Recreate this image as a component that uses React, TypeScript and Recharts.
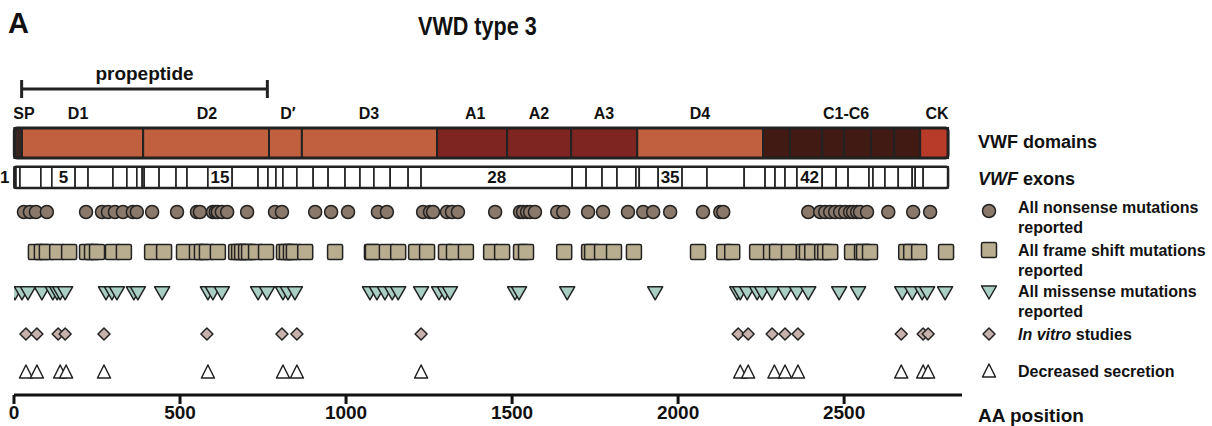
import React from 'react';
import { ComposedChart, XAxis, YAxis, Scatter, ReferenceArea, ReferenceLine } from 'recharts';

const FONT = '"Liberation Sans", Arial, Helvetica, sans-serif';

// VWF domain blocks, AA positions
const domainNames = ['SP', 'D1', 'D2', 'D′', 'D3', 'A1', 'A2', 'A3', 'D4', 'C1', 'C2', 'C3', 'C4', 'C5', 'C6', 'CK'];
const domainStarts = [1, 24, 389, 768, 867, 1274, 1485, 1678, 1877, 2256, 2337, 2434, 2500, 2581, 2651, 2729];
const domainEnds = [24, 389, 768, 867, 1274, 1485, 1678, 1877, 2256, 2337, 2434, 2500, 2581, 2651, 2729, 2813];

// labels written above the domain bar (text, AA position of its centre)
const domainLabels = ['SP', 'D1', 'D2', 'D′', 'D3', 'A1', 'A2', 'A3', 'D4', 'C1-C6', 'CK'];
const domainLabelAt = [30, 193, 581, 825, 1069, 1389, 1581, 1777, 2066, 2506, 2780];

const propeptide = [23, 763];

// exon boundaries along the protein
const exonEdges = [
  1, 6, 18, 81, 114, 184, 223, 298, 340, 370, 386, 392, 437, 488, 521, 584, 657, 735, 765, 789, 810, 852,
  901, 946, 997, 1042, 1084, 1133, 1187, 1226, 1681, 1723, 1771, 1816, 1873, 1883, 1940, 2012, 2087, 2199,
  2262, 2292, 2322, 2358, 2434, 2476, 2512, 2575, 2587, 2623, 2663, 2705, 2714, 2738, 2813,
];
const exonTags = ['5', '15', '28', '35', '42'];
const exonTagStart = [114, 584, 1226, 1940, 2358];

// mutation positions
const nonsense = [
  30, 48, 66, 99, 217, 265, 283, 304, 328, 358, 370, 416, 491, 551, 560, 599, 608, 614, 626, 642, 702, 786,
  807, 907, 955, 1006, 1096, 1123, 1232, 1253, 1262, 1304, 1319, 1337, 1449, 1524, 1533, 1545, 1554, 1569,
  1636, 1654, 1729, 1774, 1849, 1895, 1925, 1976, 2075, 2127, 2136, 2392, 2428, 2443, 2458, 2473, 2488,
  2503, 2518, 2527, 2539, 2548, 2569, 2633, 2708, 2759,
];
const frameshift = [
  66, 84, 99, 130, 166, 220, 235, 250, 298, 331, 416, 452, 512, 551, 566, 581, 614, 669, 678, 687, 699,
  708, 729, 759, 813, 822, 834, 843, 877, 967, 1078, 1081, 1123, 1157, 1211, 1244, 1301, 1325, 1361, 1437,
  1470, 1527, 1542, 1657, 1732, 1741, 1771, 1807, 1867, 2060, 2139, 2163, 2238, 2280, 2298, 2334, 2379,
  2388, 2404, 2434, 2443, 2458, 2524, 2554, 2560, 2578, 2687, 2702, 2726, 2807,
];
const missense = [
  3, 24, 42, 84, 117, 130, 139, 154, 277, 295, 310, 361, 373, 446, 584, 599, 626, 735, 762, 810, 825, 846,
  1072, 1093, 1117, 1139, 1157, 1226, 1280, 1298, 1313, 1509, 1521, 1666, 1931, 2178, 2187, 2208, 2238,
  2253, 2283, 2322, 2358, 2392, 2485, 2542, 2675, 2705, 2735, 2750, 2804,
];
const inVitro = [36, 69, 133, 154, 271, 581, 807, 852, 1226, 2181, 2211, 2283, 2322, 2361, 2672, 2738, 2753];
const secretion = [36, 69, 139, 157, 271, 584, 810, 852, 1226, 2187, 2211, 2290, 2322, 2361, 2672, 2738, 2753];

const axisTicks = [0, 500, 1000, 1500, 2000, 2500];

// row levels on the hidden y axis
const ROW = {
  secretion: 0,
  inVitro: 0.95,
  missense: 1.98,
  frameshift: 3,
  nonsense: 4,
  exonLow: 4.6,
  exonHigh: 5.13,
  domLow: 5.35,
  domHigh: 6.1,
  domLabel: 6.475,
  proLow: 6.85,
  proLine: 7.075,
  proHigh: 7.3,
  proLabel: 7.475,
};

const INK = '#222';

const domainColor = (name: string) => {
  if (name === 'SP') return '#3b2520';
  if (name === 'CK') return '#b83a29';
  if (name.startsWith('A')) return '#7e2522';
  if (name.startsWith('C')) return '#421a14';
  return '#c0603f';
};

const circleShape = (p: any) => (
  <circle cx={p.cx} cy={p.cy} r={6.5} fill="#8a786b" stroke={INK} strokeWidth={1.5} />
);
const squareShape = (p: any) => (
  <rect x={p.cx - 7.5} y={p.cy - 7.5} width={15} height={15} rx={1.5} fill="#b9ad8f" stroke={INK} strokeWidth={1.5} />
);
const downShape = (p: any) => (
  <path
    d={`M${p.cx - 7.5},${p.cy - 6} L${p.cx + 7.5},${p.cy - 6} L${p.cx},${p.cy + 7} Z`}
    fill="#a9cfc5"
    stroke={INK}
    strokeWidth={1.5}
    strokeLinejoin="round"
  />
);
const diamondShape = (p: any) => (
  <path
    d={`M${p.cx},${p.cy - 6} L${p.cx + 6},${p.cy} L${p.cx},${p.cy + 6} L${p.cx - 6},${p.cy} Z`}
    fill="#c7b1ad"
    stroke={INK}
    strokeWidth={1.5}
    strokeLinejoin="round"
  />
);
const upShape = (p: any) => (
  <path
    d={`M${p.cx},${p.cy - 7} L${p.cx + 6.5},${p.cy + 6} L${p.cx - 6.5},${p.cy + 6} Z`}
    fill="#fff"
    stroke={INK}
    strokeWidth={1.5}
    strokeLinejoin="round"
  />
);
const textShape = (size: number) => (p: any) => (
  <text
    x={p.cx}
    y={p.cy}
    textAnchor="middle"
    dominantBaseline="central"
    fontSize={size}
    fontWeight={700}
    fill="#111"
    fontFamily={FONT}
  >
    {p.payload.text}
  </text>
);

const rowData = (xs: number[], y: number) => xs.map((x) => ({ x, y }));

const legendRows = [
  { shape: circleShape, lines: ['All nonsense mutations', 'reported'], top: 198, my: 211 },
  { shape: squareShape, lines: ['All frame shift mutations', 'reported'], top: 241, my: 250 },
  { shape: downShape, lines: ['All missense mutations', 'reported'], top: 282, my: 292 },
  { shape: diamondShape, lines: ['In vitro studies'], top: 325, my: 334, italic: 'In vitro' },
  { shape: upShape, lines: ['Decreased secretion'], top: 362, my: 371 },
];

const txt: React.CSSProperties = {
  position: 'absolute',
  fontFamily: FONT,
  fontWeight: 700,
  color: '#111',
  whiteSpace: 'nowrap',
};

export default function App() {
  const labelData = domainLabels.map((text, i) => ({ x: domainLabelAt[i], y: ROW.domLabel, text }));
  const proLabel = [{ x: (propeptide[0] + propeptide[1]) / 2, y: ROW.proLabel, text: 'propeptide' }];

  return (
    <div style={{ position: 'absolute', left: 0, top: 0, width: 1212, height: 426, background: '#fff', overflow: 'hidden' }}>
      <ComposedChart width={1212} height={426} margin={{ top: 55, right: 250, bottom: 0, left: 14 }} style={{ fontFamily: FONT }}>
        <XAxis
          type="number"
          dataKey="x"
          domain={[0, 2855]}
          allowDataOverflow
          ticks={axisTicks}
          height={31}
          tickSize={9}
          tickMargin={2}
          axisLine={{ stroke: '#111', strokeWidth: 3 }}
          tickLine={{ stroke: '#111', strokeWidth: 3 }}
          tick={{ fill: '#111', fontSize: 19, fontWeight: 700, fontFamily: FONT }}
        />
        <YAxis type="number" dataKey="y" domain={[-0.575, 7.925]} allowDataOverflow hide />

        {/* domain bar */}
        {domainNames.map((name, i) => (
          <ReferenceArea
            key={`dom-${name}`}
            x1={domainStarts[i]}
            x2={domainEnds[i]}
            y1={ROW.domLow}
            y2={ROW.domHigh}
            fill={domainColor(name)}
            fillOpacity={1}
            stroke={INK}
            strokeWidth={2}
          />
        ))}
        <ReferenceArea
          x1={domainStarts[0]}
          x2={domainEnds[domainEnds.length - 1]}
          y1={ROW.domLow}
          y2={ROW.domHigh}
          fill="none"
          fillOpacity={0}
          stroke={INK}
          strokeWidth={3}
          radius={3}
        />

        {/* exon bar */}
        {exonEdges.slice(0, -1).map((from, i) => {
          const tag = exonTagStart.indexOf(from);
          let label: any = undefined;
          if (i === 0) label = { value: '1', position: 'left', offset: 5, fill: '#111', fontSize: 17, fontWeight: 700 };
          else if (tag >= 0) label = { value: exonTags[tag], position: 'center', fill: '#111', fontSize: 17, fontWeight: 700 };
          return (
            <ReferenceArea
              key={`exon-${i}`}
              x1={from}
              x2={exonEdges[i + 1]}
              y1={ROW.exonLow}
              y2={ROW.exonHigh}
              fill="#fff"
              fillOpacity={1}
              stroke={INK}
              strokeWidth={1.6}
              label={label}
            />
          );
        })}
        <ReferenceArea
          x1={exonEdges[0]}
          x2={exonEdges[exonEdges.length - 1]}
          y1={ROW.exonLow}
          y2={ROW.exonHigh}
          fill="none"
          fillOpacity={0}
          stroke={INK}
          strokeWidth={2.5}
          radius={2}
        />

        {/* propeptide bracket */}
        <ReferenceLine
          segment={[{ x: propeptide[0], y: ROW.proLine }, { x: propeptide[1], y: ROW.proLine }]}
          stroke={INK}
          strokeWidth={3}
        />
        <ReferenceLine
          segment={[{ x: propeptide[0], y: ROW.proLow }, { x: propeptide[0], y: ROW.proHigh }]}
          stroke={INK}
          strokeWidth={3}
        />
        <ReferenceLine
          segment={[{ x: propeptide[1], y: ROW.proLow }, { x: propeptide[1], y: ROW.proHigh }]}
          stroke={INK}
          strokeWidth={3}
        />

        <Scatter data={labelData} shape={textShape(16)} isAnimationActive={false} />
        <Scatter data={proLabel} shape={textShape(19)} isAnimationActive={false} />

        <Scatter data={rowData(nonsense, ROW.nonsense)} shape={circleShape} isAnimationActive={false} />
        <Scatter data={rowData(frameshift, ROW.frameshift)} shape={squareShape} isAnimationActive={false} />
        <Scatter data={rowData(missense, ROW.missense)} shape={downShape} isAnimationActive={false} />
        <Scatter data={rowData(inVitro, ROW.inVitro)} shape={diamondShape} isAnimationActive={false} />
        <Scatter data={rowData(secretion, ROW.secretion)} shape={upShape} isAnimationActive={false} />
      </ComposedChart>

      <div style={{ ...txt, left: 8, top: 9, fontSize: 29, lineHeight: '29px' }}>A</div>
      <div
        style={{
          ...txt,
          left: 418,
          top: 13,
          fontSize: 26,
          lineHeight: '26px',
          transform: 'scaleX(0.83)',
          transformOrigin: 'left center',
        }}
      >
        VWD type 3
      </div>

      <div style={{ ...txt, left: 978, top: 131, fontSize: 18, lineHeight: '22px' }}>VWF domains</div>
      <div style={{ ...txt, left: 978, top: 168, fontSize: 18, lineHeight: '22px' }}>
        <i>VWF</i> exons
      </div>
      {legendRows.map((r, i) => (
        <React.Fragment key={`lg-${i}`}>
          <svg style={{ position: 'absolute', left: 979, top: r.my - 10 }} width={20} height={20}>
            {r.shape({ cx: 10, cy: 10 })}
          </svg>
          <div style={{ ...txt, left: 1018, top: r.top, fontSize: 16, lineHeight: '20px' }}>
            {r.lines.map((l, j) => (
              <div key={j}>
                {r.italic && l.startsWith(r.italic) ? (
                  <>
                    <i>{r.italic}</i>
                    {l.slice(r.italic.length)}
                  </>
                ) : (
                  l
                )}
              </div>
            ))}
          </div>
        </React.Fragment>
      ))}
      <div style={{ ...txt, left: 978, top: 406, fontSize: 19, lineHeight: '19px' }}>AA position</div>
    </div>
  );
}
